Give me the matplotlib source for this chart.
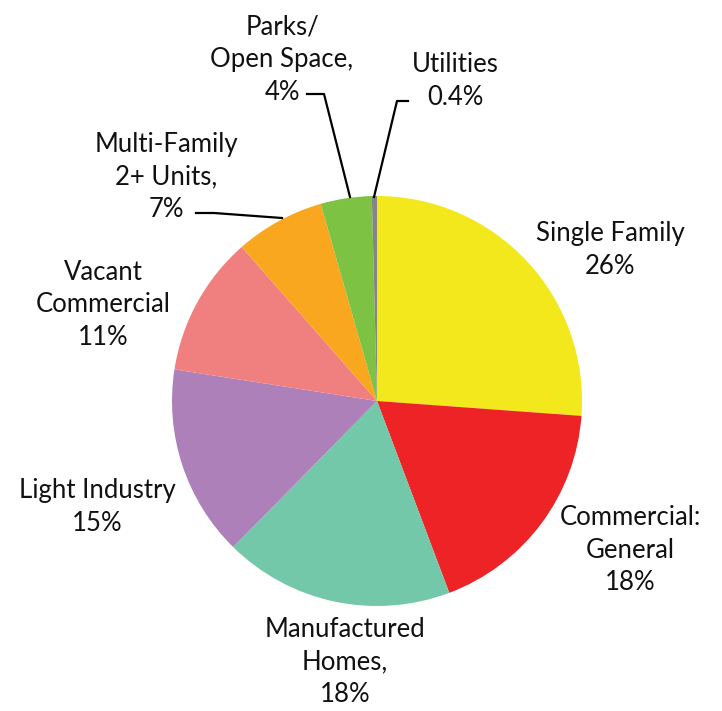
import matplotlib.pyplot as plt

plt.rcParams['font.family'] = ['Lato', 'DejaVu Sans']

# land use shares, clockwise from 12 o'clock
categories = ["Single Family", "Commercial: General", "Manufactured Homes",
              "Light Industry", "Vacant Commercial", "Multi-Family 2+ Units",
              "Parks/Open Space", "Utilities"]
shares = [26, 18, 18, 15, 11, 7, 4, 0.4]
colors = ["#F2E81C", "#EE2326", "#74C8AA", "#AE80B9", "#F08080",
          "#F9A71F", "#7DC242", "#858585"]

label_text = ["Single Family\n26%", "Commercial:\nGeneral\n18%",
              "Manufactured\nHomes,\n18%", "Light Industry\n15%",
              "Vacant\nCommercial\n11%", "Multi-Family\n2+ Units,\n7%",
              "Parks/\nOpen Space,\n4%", "Utilities\n0.4%"]
label_pos = [(610, 250), (630, 550), (345, 662), (97, 507),
             (103, 305), (166, 177), (282, 60), (455, 81)]

W, H = 722, 711
fig = plt.figure(figsize=(W / 100, H / 100), dpi=100)
ax = fig.add_axes([0, 0, 1, 1])

cx, cy, r = 377, H - 401, 205
ax.pie(shares, colors=colors, startangle=90, counterclock=False,
       center=(cx, cy), radius=r, frame=True,
       wedgeprops=dict(linewidth=0))
ax.set_xlim(0, W)
ax.set_ylim(0, H)
ax.axis("off")

for txt, (x, y) in zip(label_text, label_pos):
    ax.text(x, H - y, txt, ha="center", va="center", fontsize=18.5,
            linespacing=1.38, color="#111111")

# leader lines for the thin slices
leaders = [
    [(196, 213), (214, 213), (282, 218)],
    [(307, 94), (324, 94), (350, 197)],
    [(408, 101), (397, 101), (374, 197)],
]
for pts in leaders:
    xs = [p[0] for p in pts]
    ys = [H - p[1] for p in pts]
    ax.plot(xs, ys, color="black", linewidth=1.6)

fig.savefig("out.png", dpi=100)
